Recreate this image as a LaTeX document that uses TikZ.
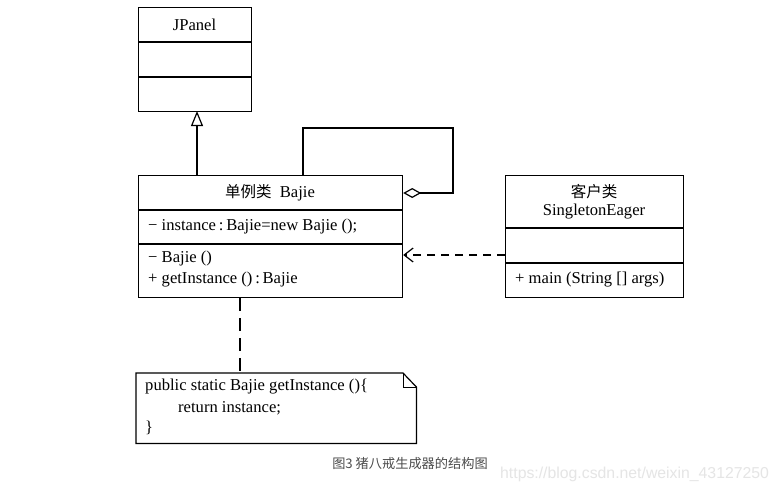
\documentclass[tikz,border=0pt]{standalone}
\usepackage{fontspec}
\setmainfont{Liberation Serif}
\newfontfamily\cjk{Noto Sans CJK SC}
\newfontfamily\capfont{Noto Sans CJK SC}
\newfontfamily\wmfont{Liberation Sans}
\usetikzlibrary{arrows.meta}
\begin{document}
\begin{tikzpicture}[x=1pt,y=-1pt,
  umlbox/.style={draw, line width=1.2pt, anchor=north west, inner sep=0pt},
  txt/.style={inner sep=0pt, font=\fontsize{16.6}{19}\selectfont},
  ltxt/.style={txt, anchor=west},
  conn/.style={line width=1.2pt},
  divider/.style={line width=1.2pt}]
\useasboundingbox (0,0) rectangle (780,493);
\fill[white] (0,0) rectangle (780,493);

% JPanel
\node[umlbox, minimum width=113pt, minimum height=104pt] (jpanel) at (138,7) {};
\node[txt] (jpanelname) at (194.5,25) {JPanel};
\draw[divider] (138,42) -- (251,42);
\draw[divider] (138,77) -- (251,77);

% Bajie
\node[umlbox, minimum width=264pt, minimum height=122pt] (bajie) at (138,175) {};
\node[txt] (bajiename) at (270,193) {{\cjk\fontsize{15.5}{18}\selectfont 单例类}\ \ Bajie};
\draw[divider] (138,210) -- (402,210);
\node[ltxt] (attr) at (148,227) {\textminus\ instance\,:\,Bajie=new Bajie ();};
\draw[divider] (138,244) -- (402,244);
\node[ltxt] (op1) at (148,259) {\textminus\ Bajie ()};
\node[ltxt] (op2) at (148,280) {+ getInstance ()\,:\,Bajie};

% SingletonEager
\node[umlbox, minimum width=178pt, minimum height=122pt] (client) at (505,175) {};
\node[txt] (clientcn) at (594,192) {\cjk\fontsize{15.5}{18}\selectfont 客户类};
\node[txt] (clientname) at (594,212) {SingletonEager};
\draw[divider] (505,228) -- (683,228);
\draw[divider] (505,263) -- (683,263);
\node[ltxt] (mainop) at (515,280) {+ main (String [] args)};

% Note
\node[inner sep=0pt, minimum width=280pt, minimum height=70pt, anchor=north west] (note) at (136,373) {};
\draw[line width=1.2pt] (note.north west) -- (403,373) -- (note.north east |- 0,387) -- (note.south east) -- (note.south west) -- cycle;
\draw[line width=1pt] (403,373) -- (403,387) -- (416,387);
\node[ltxt] (n1) at (145,387) {public static Bajie getInstance ()\{};
\node[ltxt] (n2) at (178,408) {return instance;};
\node[ltxt] (n3) at (145,428) {\}};

% Connectors
\coordinate (inhTop) at (197,111);
\draw[conn, -{Triangle[open, length=15pt, width=12pt, line width=1.2pt]}] (bajie.north -| inhTop) -- (inhTop);

\coordinate (selfA) at (453,193);
\coordinate (selfB) at (453,128);
\coordinate (selfC) at (303,128);
\draw[conn, {Diamond[open, length=18pt, width=10pt, line width=1.2pt]}-] (bajie.east |- selfA) -- (selfA) -- (selfB) -- (selfC) -- (bajie.north -| selfC);

\coordinate (depY) at (0,255);
\draw[conn, dash pattern=on 8pt off 6pt, -{Straight Barb[length=9pt, width=14pt, line width=1.2pt]}] (client.west |- depY) -- (bajie.east |- depY);

\coordinate (noteX) at (240,0);
\draw[conn, dash pattern=on 13pt off 7pt] (bajie.south -| noteX) -- (note.north -| noteX);

% Caption and watermark
\node[inner sep=0pt, text=black!70] (caption) at (410,463) {\capfont\fontsize{13.2}{15}\selectfont 图3 猪八戒生成器的结构图};
\node[inner sep=0pt, text=black!10, anchor=west] (wm) at (500,474) {\wmfont\fontsize{15.8}{18}\selectfont https://blog.csdn.net/weixin\_43127250};
\end{tikzpicture}
\end{document}
